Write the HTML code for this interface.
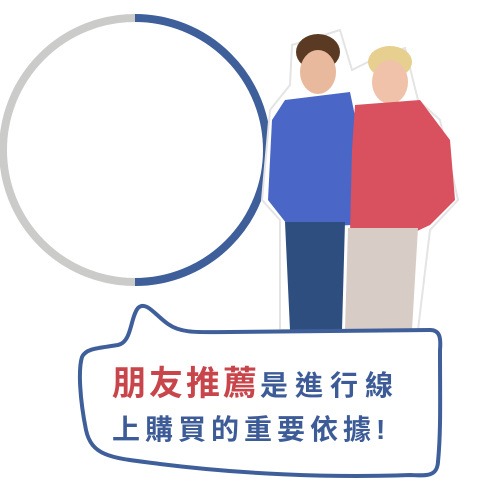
<!DOCTYPE html>
<html><head><meta charset="utf-8"><style>
html,body{margin:0;padding:0;background:#fff;}
body{width:490px;height:483px;overflow:hidden;position:relative;font-family:"Liberation Sans","Noto Sans CJK TC",sans-serif;}
svg{position:absolute;left:0;top:0;}
.t{position:absolute;white-space:nowrap;font-weight:bold;color:#3d5c97;}
</style></head><body>
<svg width="490" height="483">
  <g>
    <path d="M135 18 A132 132 0 0 0 135 282" fill="none" stroke="#cbcbca" stroke-width="8"/>
    <path d="M135 18 A132 132 0 0 1 135 282" fill="none" stroke="#3f5f9b" stroke-width="8"/>
  </g>
  <g>
    <path d="M292 45 L340 30 L352 70 L372 60 L405 48 L418 100 L440 120 L458 200 L430 230 L418 330 L280 330 L280 220 L262 200 L270 110 L290 85 Z" fill="#fff" stroke="#e4e4e4" stroke-width="2"/>
    <ellipse cx="318" cy="52" rx="22" ry="18" fill="#5a3a22"/>
    <ellipse cx="318" cy="72" rx="18" ry="22" fill="#e8b99c"/>
    <path d="M285 100 L350 92 L360 140 L352 225 L290 228 L268 200 L272 120 Z" fill="#4a67c8"/>
    <path d="M285 222 L345 222 L342 330 L290 330 Z" fill="#2f4e80"/>
    <ellipse cx="390" cy="62" rx="22" ry="16" fill="#e6cf8f"/>
    <ellipse cx="390" cy="82" rx="18" ry="22" fill="#f0c2aa"/>
    <path d="M355 105 L420 100 L450 140 L455 200 L430 225 L415 232 L350 232 L352 150 Z" fill="#d9505e"/>
    <path d="M348 228 L418 228 L412 330 L345 330 Z" fill="#d8ccc6"/>
  </g>
  <path d="M138 308 C146 300 156 316 168 324 C182 334 200 332 230 332 L430 330 C440 330 441 338 440 350 C440 400 441 430 438 462 C437 476 428 476 410 475 C330 478 240 474 160 464 C115 458 92 458 86 430 C80 400 78 370 82 357 C86 348 100 348 118 345 C132 342 130 318 138 308 Z" fill="#fff" stroke="#3f5f9b" stroke-width="4"/>
</svg>
<div class="t" style="left:112px;top:356px;"><span style="color:#c8454b;font-size:34px;letter-spacing:3px;">朋友推薦</span><span style="font-size:28px;letter-spacing:7px;">是進行線</span></div>
<div class="t" style="left:112px;top:408px;font-size:28px;letter-spacing:5px;">上購買的重要依據!</div>
</body></html>
